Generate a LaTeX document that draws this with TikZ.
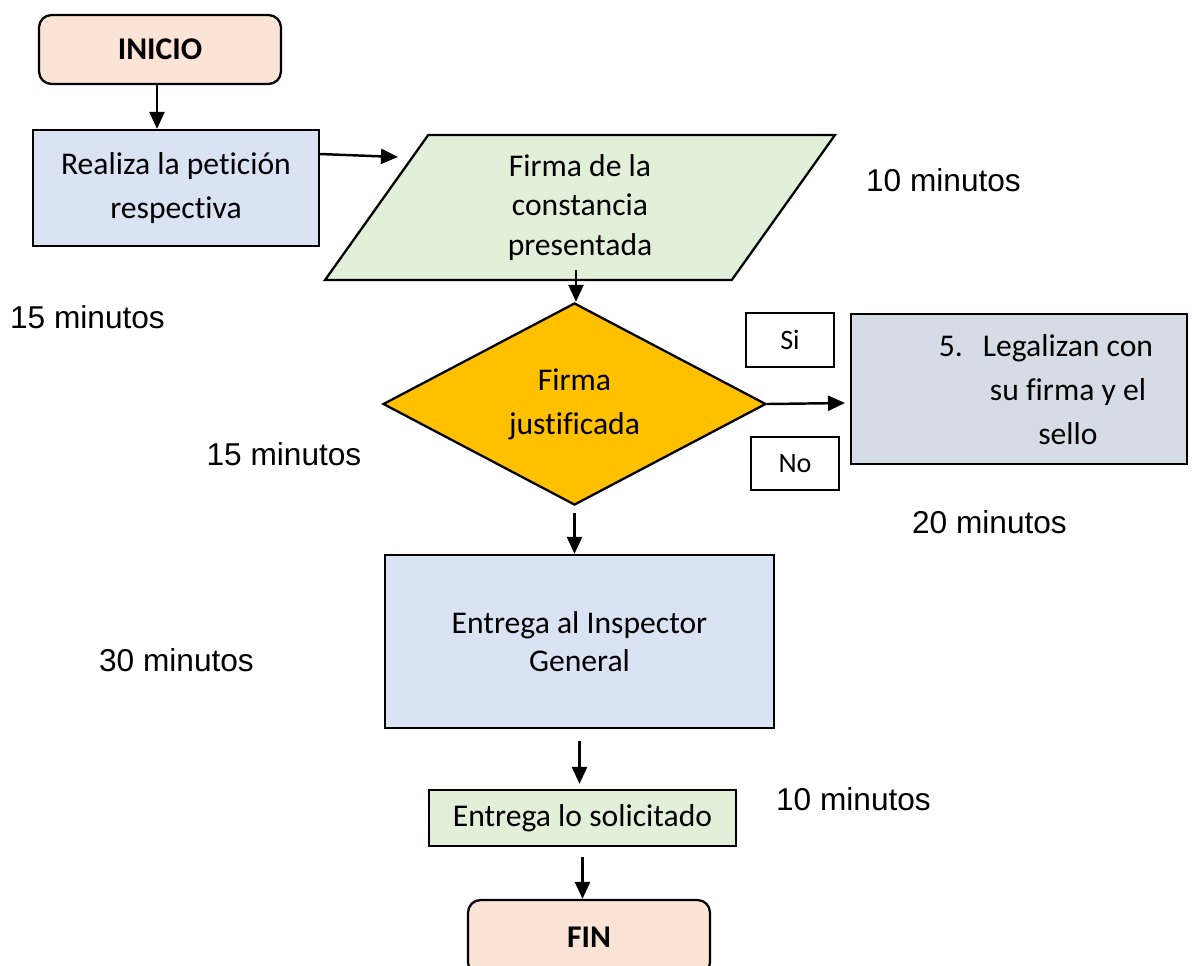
\documentclass[tikz,border=0pt]{standalone}
\usepackage{fontspec}
\setmainfont{Carlito}[Ligatures=NoCommon]
\newfontfamily\tiempofont{Liberation Sans}
\usetikzlibrary{shapes.geometric,arrows.meta,positioning}

\definecolor{inicioFill}{HTML}{FBE4D5}
\definecolor{pasoFill}{HTML}{DAE3F3}
\definecolor{firmaFill}{HTML}{E2F0D9}
\definecolor{decisionFill}{HTML}{FFC000}
\definecolor{legalFill}{HTML}{D6DCE5}

\begin{document}
\begin{tikzpicture}[x=0.02cm,y=-0.02cm,
        every node/.style={font=\fontsize{18}{25}\selectfont, align=center, inner sep=0pt},
        terminal/.style={draw, line width=1.3pt, rounded corners=0.25cm, fill=inicioFill, font=\fontsize{18}{25}\selectfont\bfseries},
        paso/.style={draw, line width=1.3pt, fill=pasoFill},
        datos/.style={trapezium, trapezium left angle=46, trapezium right angle=134, trapezium stretches body=true, draw, line width=1.3pt, fill=firmaFill},
        decision/.style={diamond, draw, line width=1.3pt, fill=decisionFill},
        opcion/.style={draw, line width=1pt, minimum width=1.76cm, minimum height=1.07cm, font=\fontsize{16}{19}\selectfont},
        tiempo/.style={font=\fontsize{18}{22}\selectfont\tiempofont},
        flecha/.style={-{Triangle[length=0.34cm,width=0.3cm]}, line width=1.4pt}]
        \clip (0,0) rectangle (1193,965);
        \fill[white] (0,0) rectangle (1193,965);

        \node[terminal, minimum width=4.84cm, minimum height=1.38cm] (inicio) at (160,49.5) {INICIO};
        \node[paso, minimum width=5.72cm, minimum height=2.32cm] (peticion) at (176,188) {Realiza la petición\\respectiva};
        \node[datos, minimum width=10.2cm, minimum height=2.9cm, font=\fontsize{18}{22.7}\selectfont] (firma) at (580,207.5) {Firma de la\\constancia\\presentada};
        \node[decision, minimum width=7.66cm, minimum height=3.84cm] (justif) at (574.5,404) {Firma\\justificada};
        \node[opcion] (si) at (790,340) {Si};
        \node[opcion] (no) at (795,463.5) {No};
        \node[paso, fill=legalFill, minimum width=6.72cm, minimum height=3cm] (legaliza) at (1019,389) {};
        \node (legtxt) at (1068,390) {\llap{5.\hspace{0.4cm}}Legalizan con\\su firma y el\\sello};
        \node[paso, minimum width=7.78cm, minimum height=3.46cm, font=\fontsize{18}{21.6}\selectfont] (inspector) at (579.5,641.5) {Entrega al Inspector\\General};
        \node[paso, fill=firmaFill, minimum width=6.14cm, minimum height=1.12cm] (entrega) at (582.5,818) {Entrega lo solicitado};
        \node[terminal, minimum width=4.84cm, minimum height=1.5cm] (fin) at (589,937.5) {FIN};

        \node[tiempo] (t-firma) at (943.5,180) {10 minutos};
        \node[tiempo] (t-peticion) at (87.5,317) {15 minutos};
        \node[tiempo] (t-justif) at (284,454) {15 minutos};
        \node[tiempo] (t-legaliza) at (989.5,522) {20 minutos};
        \node[tiempo] (t-inspector) at (176.5,660) {30 minutos};
        \node[tiempo] (t-entrega) at (853.5,799) {10 minutos};

        \coordinate (firma-in) at (398,157);
        \coordinate (firma-out) at (576,270);
        \coordinate (legaliza-in) at (845,403);

        \draw[flecha] ([xshift=-0.06cm]inicio.south) -- ([xshift=-0.06cm]inicio.south |- peticion.north);
        \draw[flecha] ([yshift=0.68cm]peticion.east) -- (firma-in);
        \draw[flecha] (firma-out) -- (firma-out |- justif.north);
        \draw[flecha] (justif.east) -- (legaliza-in);
        \draw[flecha] ([yshift=-0.14cm]justif.south) -- (justif.south |- inspector.north);
        \draw[flecha] ([yshift=-0.24cm]inspector.south) -- ([yshift=0.1cm]inspector.south |- entrega.north);
        \draw[flecha] ([yshift=-0.2cm]entrega.south) -- (entrega.south |- fin.north);
\end{tikzpicture}
\end{document}
